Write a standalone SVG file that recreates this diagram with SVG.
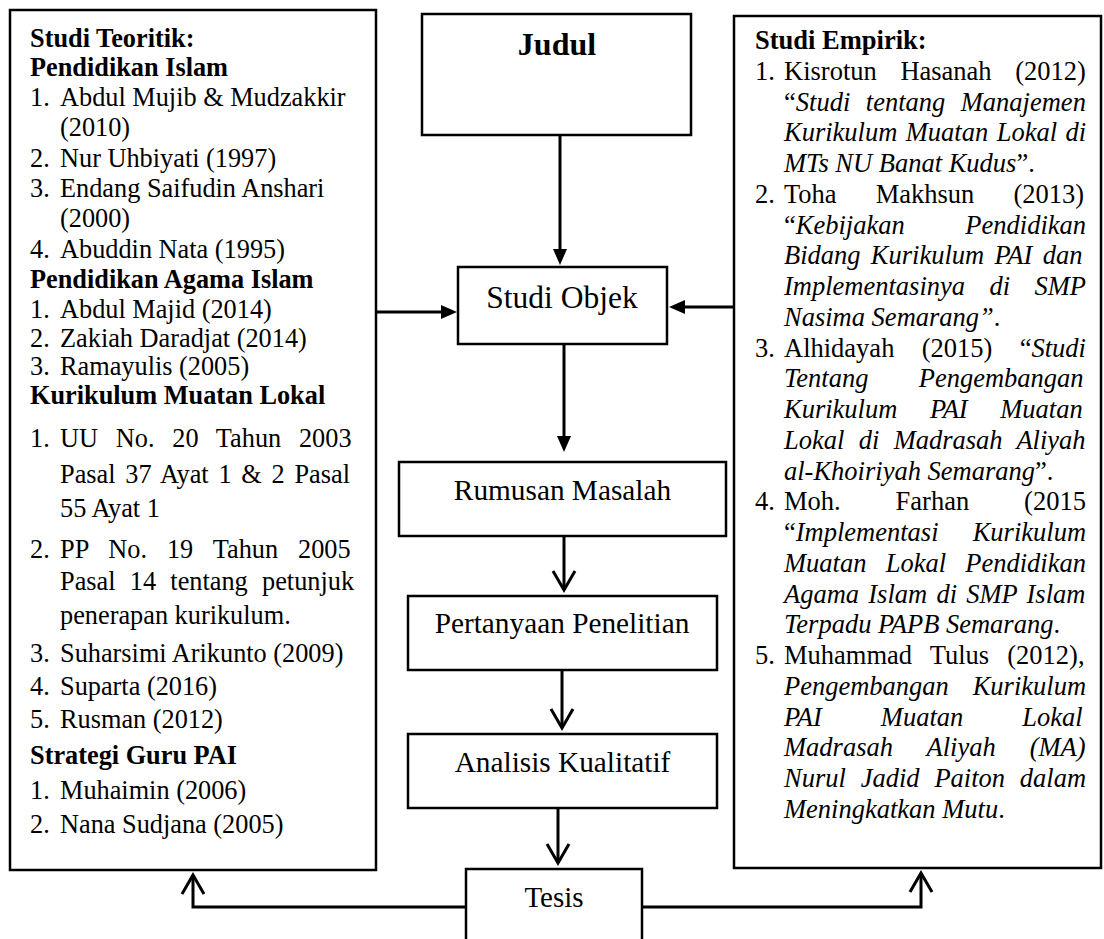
<svg xmlns="http://www.w3.org/2000/svg" width="1104" height="939" viewBox="0 0 1104 939">
<style>
text{font-family:"Liberation Serif","Times New Roman",serif;fill:#000}
.L{font-size:26.3px}
.R{font-size:26.5px}
.b{font-weight:bold}
.i{font-style:italic}
.m{font-size:29.3px;text-anchor:middle}
.box{fill:#fff;stroke:#000;stroke-width:2.5}
.c{fill:none;stroke:#000;stroke-width:3}
.fa{marker-end:url(#fill)}
.va{marker-end:url(#vee)}
</style>
<defs>
<marker id="fill" markerUnits="userSpaceOnUse" viewBox="0 -7 16 14" refX="1" refY="0" markerWidth="16" markerHeight="14" orient="auto" overflow="visible">
<path d="M0,-7 L16,0 L0,7 z" fill="#000"/>
</marker>
<marker id="vee" markerUnits="userSpaceOnUse" viewBox="-24 -14 30 28" refX="0" refY="0" markerWidth="30" markerHeight="28" orient="auto" overflow="visible">
<path d="M-19,-11 L0,0 L-19,11" fill="none" stroke="#000" stroke-width="3"/>
</marker>
</defs>
<rect width="1104" height="939" fill="#fff"/>

<g id="connectors">
<path class="c fa" d="M560,136 V250"/>
<path class="c fa" d="M377,312 H442"/>
<path class="c fa" d="M734,307 H684"/>
<path class="c fa" d="M564,345 V437"/>
<path class="c va" d="M564,537 V590"/>
<path class="c va" d="M562,671 V728"/>
<path class="c va" d="M558,809 V863"/>
<path class="c va" d="M466,907 H193 V875"/>
<path class="c va" d="M642,907 H921 V873"/>
</g>

<g id="studi-teoritik">
<rect class="box" x="10" y="10" width="366" height="860"/>
<text class="L b" x="30" y="47">Studi Teoritik:</text>
<text class="L b" x="30" y="76">Pendidikan Islam</text>
<text class="L" x="30" y="106">1.</text><text class="L" x="60" y="106">Abdul Mujib &amp; Mudzakkir</text>
<text class="L" x="60" y="136">(2010)</text>
<text class="L" x="30" y="167">2.</text><text class="L" x="60" y="167">Nur Uhbiyati (1997)</text>
<text class="L" x="30" y="197">3.</text><text class="L" x="60" y="197">Endang Saifudin Anshari</text>
<text class="L" x="60" y="227">(2000)</text>
<text class="L" x="30" y="258">4.</text><text class="L" x="60" y="258">Abuddin Nata (1995)</text>
<text class="L b" x="30" y="288">Pendidikan Agama Islam</text>
<text class="L" x="30" y="318">1.</text><text class="L" x="60" y="318">Abdul Majid (2014)</text>
<text class="L" x="30" y="347">2.</text><text class="L" x="60" y="347">Zakiah Daradjat (2014)</text>
<text class="L" x="30" y="375">3.</text><text class="L" x="60" y="375">Ramayulis (2005)</text>
<text class="L b" x="30" y="404">Kurikulum Muatan Lokal</text>
<text class="L" x="30" y="447">1.</text><text class="L" x="60" y="447" style="word-spacing:11.2px">UU No. 20 Tahun 2003</text>
<text class="L" x="60" y="483" style="word-spacing:3.2px">Pasal 37 Ayat 1 &amp; 2 Pasal</text>
<text class="L" x="60" y="517">55 Ayat 1</text>
<text class="L" x="30" y="558">2.</text><text class="L" x="60" y="558" style="word-spacing:13.4px">PP No. 19 Tahun 2005</text>
<text class="L" x="60" y="590" style="word-spacing:7.7px">Pasal 14 tentang petunjuk</text>
<text class="L" x="60" y="624">penerapan kurikulum.</text>
<text class="L" x="30" y="662">3.</text><text class="L" x="60" y="662">Suharsimi Arikunto (2009)</text>
<text class="L" x="30" y="695">4.</text><text class="L" x="60" y="695">Suparta (2016)</text>
<text class="L" x="30" y="728">5.</text><text class="L" x="60" y="728">Rusman (2012)</text>
<text class="L b" x="30" y="764">Strategi Guru PAI</text>
<text class="L" x="30" y="799">1.</text><text class="L" x="60" y="799">Muhaimin (2006)</text>
<text class="L" x="30" y="833">2.</text><text class="L" x="60" y="833">Nana Sudjana (2005)</text>
</g>

<g id="judul">
<rect class="box" x="422" y="14" width="269" height="121"/>
<text class="b" x="557" y="55" style="font-size:32px;text-anchor:middle">Judul</text>
</g>

<g id="studi-objek">
<rect class="box" x="458" y="267" width="209" height="77"/>
<text x="562" y="308" style="font-size:31.5px;text-anchor:middle">Studi Objek</text>
</g>

<g id="rumusan-masalah">
<rect class="box" x="399" y="462" width="327" height="74"/>
<text class="m" x="562.5" y="500">Rumusan Masalah</text>
</g>

<g id="pertanyaan-penelitian">
<rect class="box" x="408" y="596" width="309" height="74"/>
<text class="m" x="562" y="633">Pertanyaan Penelitian</text>
</g>

<g id="analisis-kualitatif">
<rect class="box" x="408" y="734" width="309" height="74"/>
<text class="m" x="562.5" y="772">Analisis Kualitatif</text>
</g>

<g id="tesis">
<rect class="box" x="466" y="869" width="176" height="100"/>
<text class="m" x="554" y="907" style="font-size:29px">Tesis</text>
</g>

<g id="studi-empirik">
<rect class="box" x="734" y="16" width="367" height="852"/>
<text class="R b" x="755" y="49">Studi Empirik:</text>
<text class="R" x="755" y="80">1.</text><text class="R" x="784" y="80" style="word-spacing:17px">Kisrotun Hasanah (2012)</text>
<text class="R" x="784" y="110.5" style="word-spacing:8.9px">“<tspan class="i">Studi tentang Manajemen</tspan></text>
<text class="R i" x="784" y="141.2" style="word-spacing:1.8px">Kurikulum Muatan Lokal di</text>
<text class="R" x="784" y="172"><tspan class="i">MTs NU Banat Kudus</tspan>”.</text>
<text class="R" x="755" y="202.8">2.</text><text class="R" x="784" y="202.8" style="word-spacing:32.5px">Toha Makhsun (2013)</text>
<text class="R" x="784" y="233.5" style="word-spacing:54px">“<tspan class="i">Kebijakan Pendidikan</tspan></text>
<text class="R i" x="784" y="264.2" style="word-spacing:3.7px">Bidang Kurikulum PAI dan</text>
<text class="R i" x="784" y="295" style="word-spacing:17.8px">Implementasinya di SMP</text>
<text class="R" x="784" y="325.8"><tspan class="i">Nasima Semarang”</tspan>.</text>
<text class="R" x="755" y="356.5">3.</text><text class="R" x="784" y="356.5" style="word-spacing:20.7px">Alhidayah (2015) “<tspan class="i">Studi</tspan></text>
<text class="R i" x="784" y="387.2" style="word-spacing:43.7px">Tentang Pengembangan</text>
<text class="R i" x="784" y="418" style="word-spacing:25.9px">Kurikulum PAI Muatan</text>
<text class="R i" x="784" y="448.8" style="word-spacing:7.7px">Lokal di Madrasah Aliyah</text>
<text class="R" x="784" y="479.5"><tspan class="i">al-Khoiriyah Semarang</tspan>”.</text>
<text class="R" x="755" y="510.2">4.</text><text class="R" x="784" y="510.2" style="word-spacing:48.3px">Moh. Farhan (2015</text>
<text class="R" x="784" y="541" style="word-spacing:27.5px">“<tspan class="i">Implementasi Kurikulum</tspan></text>
<text class="R i" x="784" y="571.8" style="word-spacing:12.6px">Muatan Lokal Pendidikan</text>
<text class="R i" x="784" y="602.5" style="word-spacing:2.6px">Agama Islam di SMP Islam</text>
<text class="R" x="784" y="633.2"><tspan class="i">Terpadu PAPB Semarang</tspan>.</text>
<text class="R" x="755" y="664">5.</text><text class="R" x="784" y="664" style="word-spacing:11.5px">Muhammad Tulus (2012),</text>
<text class="R i" x="784" y="694.8" style="word-spacing:17.2px">Pengembangan Kurikulum</text>
<text class="R i" x="784" y="725.5" style="word-spacing:52.4px">PAI Muatan Lokal</text>
<text class="R i" x="784" y="756.2" style="word-spacing:27.4px">Madrasah Aliyah (MA)</text>
<text class="R i" x="784" y="787" style="word-spacing:8.2px">Nurul Jadid Paiton dalam</text>
<text class="R" x="784" y="817.8"><tspan class="i">Meningkatkan Mutu</tspan>.</text>
</g>
</svg>
